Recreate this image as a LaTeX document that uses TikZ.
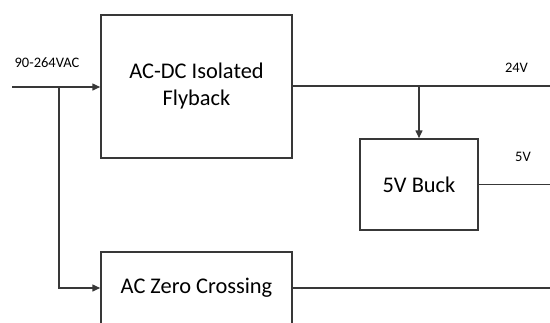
\documentclass[tikz,border=0pt]{standalone}
\usepackage{fontspec}
\setmainfont{Carlito}
\usetikzlibrary{arrows.meta,positioning,calc}
\tikzset{
    wire color/.style={black!78},
    block/.style={draw=black!78,line width=1.5pt,rectangle,inner sep=0pt,align=center,font=\fontsize{22.4}{27}\selectfont},
    wire/.style={wire color,line width=1.5pt},
    arr/.style={wire,-{Triangle[length=8pt,width=7pt]}},
    rail label/.style={font=\fontsize{14.5}{16}\selectfont,inner sep=0pt},
}

\begin{document}
\begin{tikzpicture}[x=1pt,y=-1pt]

        \clip (0,0) rectangle (550,322);

        \node[block, minimum width=191pt, minimum height=143pt] (flyback) at (196.5,86.5) {AC-DC Isolated\\Flyback};
        \node[block, minimum width=118pt, minimum height=91pt] (buck) at (419,184.5) {5V Buck};
        \node[block, minimum width=191pt, minimum height=72pt] (zerocross) at (196.5,288) {AC Zero Crossing};

        \coordinate (acin) at (12,87);
        \coordinate (acsplit) at (59,87);
        \coordinate (tap24) at (419,86);
        \coordinate (out24) at (550,86);
        \coordinate (out5) at (550,184.5);
        \coordinate (outzc) at (550,288);

        \draw[arr] (acin) -- (flyback.west |- acin);
        \draw[arr] (acsplit) |- (zerocross.west);
        \draw[wire] (flyback.east |- out24) -- (out24);
        \draw[arr] (tap24) -- (buck.north);
        \draw[wire] (buck.east) -- (out5);
        \draw[wire] (zerocross.east) -- (outzc);

        \node[rail label] (vaclabel) at (47,63) {90-264VAC};
        \node[rail label] (label24) at (516.5,68) {24V};
        \node[rail label] (label5) at (523,157) {5V};
    \end{tikzpicture}
\end{document}
